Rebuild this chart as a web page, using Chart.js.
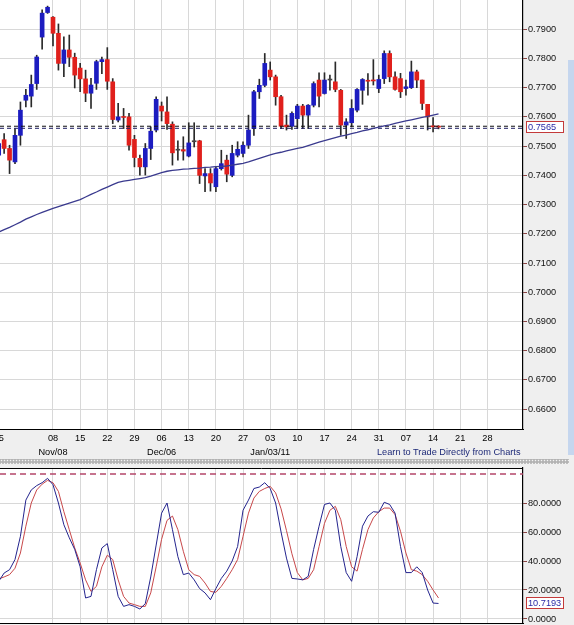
<!DOCTYPE html>
<html><head><meta charset="utf-8">
<script src="https://cdn.jsdelivr.net/npm/chart.js@4.4.1/dist/chart.umd.min.js"></script>
<style>
html,body{margin:0;padding:0;background:#efefef;width:574px;height:625px;overflow:hidden;position:relative;font-family:"Liberation Sans",Arial,sans-serif;}
#c1{position:absolute;left:0;top:0;}
#c2{position:absolute;left:0;top:466px;}
#sep{position:absolute;left:0;top:459px;width:569px;height:5px;background-color:#d6d6d6;background-image:radial-gradient(circle at 1.5px 1.5px,#f4f4f4 0.7px,#9a9a9a 1.2px,transparent 1.7px);background-size:3px 3px;}
#strip{position:absolute;left:568px;top:60px;width:6px;height:395px;background:#c5d6ee;}
#learn{position:absolute;left:377px;top:446px;font-size:9.2px;line-height:12px;color:#1e2a78;white-space:nowrap;}
</style></head>
<body>
<canvas id="c1" width="574" height="460"></canvas>
<div id="sep"></div>
<div id="strip"></div>
<div id="learn">Learn to Trade Directly from Charts</div>
<canvas id="c2" width="574" height="159"></canvas>
<script>
// ---- data (daily candles, Oct 25 2010 .. Feb 15 2011) ----
const opens = [.7469,.7522,.7492,.7446,.7537,.7657,.7671,.7714,.7873,.7957,
.7941,.7886,.7783,.7829,.7804,.7767,.7730,.7681,.7715,.7789,
.7796,.7720,.7589,.7599,.7600,.7523,.7458,.7429,.7492,.7555,
.7637,.7617,.7575,.7486,.7488,.7466,.7515,.7518,.7398,.7406,
.7361,.7423,.7452,.7400,.7469,.7475,.7503,.7560,.7686,.7708,
.7760,.7737,.7669,.7572,.7568,.7594,.7637,.7606,.7640,.7726,
.7680,.7726,.7720,.7691,.7572,.7580,.7623,.7691,.7724,.7724,
.7697,.7731,.7817,.7737,.7731,.7697,.7700,.7754,.7726,.7643,
.7568,.7566];
const highs = [.7520,.7543,.7503,.7560,.7651,.7694,.7743,.7811,.7966,.7979,
.7943,.7918,.7874,.7880,.7818,.7783,.7760,.7732,.7794,.7805,
.7837,.7731,.7646,.7629,.7612,.7537,.7469,.7509,.7566,.7669,
.7651,.7669,.7583,.7518,.7532,.7580,.7580,.7520,.7423,.7423,
.7429,.7486,.7469,.7503,.7515,.7515,.7606,.7691,.7729,.7817,
.7788,.7743,.7674,.7606,.7617,.7643,.7643,.7642,.7720,.7751,
.7751,.7743,.7788,.7694,.7594,.7659,.7697,.7731,.7748,.7796,
.7743,.7826,.7826,.7754,.7749,.7726,.7791,.7760,.7726,.7643,
.7598,.7570];
const lows = [.7463,.7475,.7406,.7440,.7503,.7634,.7634,.7694,.7832,.7954,
.7843,.7760,.7738,.7772,.7699,.7686,.7652,.7629,.7694,.7748,
.7694,.7577,.7583,.7560,.7486,.7429,.7401,.7401,.7454,.7549,
.7586,.7557,.7435,.7452,.7452,.7463,.7497,.7372,.7344,.7346,
.7344,.7418,.7378,.7395,.7463,.7463,.7492,.7537,.7663,.7703,
.7726,.7640,.7560,.7555,.7557,.7560,.7560,.7560,.7634,.7634,
.7678,.7691,.7686,.7537,.7526,.7566,.7617,.7643,.7674,.7709,
.7683,.7714,.7720,.7691,.7666,.7674,.7697,.7700,.7625,.7555,
.7549,.7559];
const closes = [.7509,.7492,.7452,.7537,.7623,.7674,.7711,.7805,.7955,.7975,
.7886,.7783,.7829,.7804,.7743,.7730,.7681,.7709,.7789,.7796,
.7722,.7591,.7600,.7598,.7503,.7461,.7429,.7492,.7551,.7660,
.7620,.7577,.7477,.7486,.7483,.7511,.7515,.7400,.7406,.7374,
.7423,.7440,.7404,.7475,.7489,.7503,.7555,.7686,.7708,.7783,
.7737,.7669,.7568,.7566,.7612,.7637,.7606,.7640,.7714,.7671,
.7726,.7726,.7694,.7572,.7583,.7629,.7694,.7728,.7722,.7723,
.7728,.7817,.7737,.7694,.7686,.7703,.7754,.7726,.7646,.7600,
.7566,.7565];
const movingAvg = [.7206,.7214,.7222,.7231,.7240,.7250,.7258,.7266,.7273,.7280,
.7287,.7293,.7299,.7305,.7311,.7317,.7326,.7335,.7343,.7352,
.7360,.7368,.7376,.7380,.7383,.7386,.7389,.7392,.7397,.7403,
.7409,.7414,.7417,.7419,.7421,.7422,.7424,.7425,.7427,.7428,
.7430,.7431,.7432,.7435,.7438,.7441,.7446,.7452,.7458,.7464,
.7470,.7475,.7479,.7484,.7488,.7492,.7496,.7502,.7508,.7514,
.7519,.7524,.7529,.7534,.7538,.7543,.7547,.7552,.7556,.7561,
.7565,.7569,.7573,.7578,.7582,.7586,.7590,.7594,.7598,.7602,
.7606,.7610];
const priceLines = [0.7568, 0.7561];
const lastPrice = 0.7565;
const stochK = [26,31.7,34,41,57,82,89,92,94,97,
92.6,80,65,56,48,36,14.5,15.6,34,49,
52,34,15.6,8.7,9.9,8.7,6.9,10.6,29,51,
73,80,61.6,43,30.6,31.7,27,21,18,13.3,
21,28,33,40,50,75,82,90,91,94,
90,80,60,42,28,27.6,27,29.4,48,64,
79,80,75,50,32,26,43,64,71,74,
73.6,80.5,79,73,50,32,32,36,32,20,
11,10.7193];
const stochD = [27.6,29,30.6,35,45.5,64,80,89,93,95.6,
94,88,74,61.6,49,38.6,27,19,22.5,36,
44,41,27,15.6,11,9.9,8.7,8.7,18,36,
55,68,71,61.6,46.7,34,30.6,29.4,24.8,19,
18.4,22.5,28,34,41,57,73,83.4,88,90,
91.5,87,76,61,45,32,27,28,34,50,
66,75,77.7,68.5,50,36,33,48,61.6,69.7,
74,76.5,76.5,72,60.5,45.5,34,33,30.6,26,
20,14.5];
const oscLevel = 100;
const tickIdx   = [0,10,15,20,25,30,35,40,45,50,55,60,65,70,75,80,85,90];
const tickDays  = ["25","08","15","22","29","06","13","20","27","03","10","17","24","31","07","14","21","28"];
const tickMonth = ["","Nov/08","","","","Dec/06","","","","Jan/03/11","","","","","","","",""];
const priceTicks = [0.66,0.67,0.68,0.69,0.70,0.71,0.72,0.73,0.74,0.75,0.76,0.77,0.78,0.79];
const oscTicks = [0,20,40,60,80];

// ---- styling ----
const X_MIN = 0.239, X_MAX = 96.56;
const BLUE = '#1c1cc0', RED = '#e0201c', DOJI = '#444';
const GRID = '#d8d8d8';
const FONT = {family:'"Liberation Sans", Arial, sans-serif', size:9.2};
Chart.defaults.font.family = FONT.family;
Chart.defaults.font.size = FONT.size;

const idx = opens.map((_, i) => i);
const candleColor = idx.map(i => closes[i] > opens[i] ? BLUE : (closes[i] < opens[i] ? RED : DOJI));

const bgPlugin = {
  id:'bg',
  beforeDraw(chart){
    const a = chart.chartArea, c = chart.ctx;
    c.save(); c.fillStyle = '#fff'; c.fillRect(a.left, a.top, a.right-a.left, a.bottom-a.top); c.restore();
  }
};
function boxPlugin(scaleId, value, text){
  return {
    id:'box'+scaleId,
    afterDraw(chart){
      const s = chart.scales[scaleId], c = chart.ctx;
      const y = Math.round(s.getPixelForValue(value));
      c.save();
      c.fillStyle = '#fff'; c.strokeStyle = '#c43a3a'; c.lineWidth = 1;
      c.fillRect(526.5, y-5.5, 37, 11); c.strokeRect(526.5, y-5.5, 37, 11);
      c.fillStyle = '#2a2aa6'; c.font = FONT.size + 'px ' + FONT.family;
      c.textBaseline = 'middle'; c.textAlign = 'left';
      c.fillText(text, 528, y+0.5);
      c.restore();
    }
  };
}
const topBorder = {
  id:'topb',
  afterDraw(chart){
    const a = chart.chartArea, c = chart.ctx;
    c.save(); c.strokeStyle = '#000'; c.lineWidth = 1;
    c.beginPath(); c.moveTo(a.left, a.top+0.5); c.lineTo(a.right, a.top+0.5); c.stroke(); c.restore();
  }
};

function xScale(showLabels){
  return {
    type:'linear', min:X_MIN, max:X_MAX, offset:false,
    grid:{color:GRID, drawTicks:false, offset:false},
    border:{color:'#000', width:1},
    ticks:{
      display:showLabels, autoSkip:false, maxRotation:0, minRotation:0, padding:2, color:'#000',
      font:{size:FONT.size, lineHeight:1.52},
      callback(v){ const k = tickIdx.indexOf(v); if(k<0) return ''; return tickMonth[k] ? [tickDays[k], tickMonth[k]] : tickDays[k]; }
    },
    afterBuildTicks(s){ s.ticks = tickIdx.map(v => ({value:v})); },
    afterFit(s){ s.height = showLabels ? 31 : 2; s.paddingLeft = 0; s.paddingRight = 0; s.paddingTop = 0; s.paddingBottom = 0; }
  };
}
function yScale(min, max, ticks){
  return {
    position:'right', min, max,
    grid:{color:GRID, tickColor:'#8a4444', tickLength:4},
    border:{color:'#000', width:1.2},
    ticks:{padding:1, color:'#111', font:{size:FONT.size}, callback: v => Number(v).toFixed(4)},
    afterBuildTicks(s){ s.ticks = ticks.map(v => ({value:v})); },
    afterFit(s){ s.width = 51; s.paddingTop = 0; s.paddingBottom = 0; s.paddingLeft = 0; s.paddingRight = 0; }
  };
}

new Chart(document.getElementById('c1'), {
  type:'bar',
  data:{
    datasets:[
      {type:'line', data: idx.map(i => ({x:i, y:movingAvg[i]})), borderColor:'#3a3a8e', borderWidth:1.3, pointRadius:0, tension:0, order:0},
      {type:'line', data:[{x:X_MIN,y:priceLines[0]},{x:X_MAX,y:priceLines[0]}], borderColor:'#111', borderWidth:1, borderDash:[4,3], pointRadius:0, order:0},
      {type:'line', data:[{x:X_MIN,y:priceLines[1]},{x:X_MAX,y:priceLines[1]}], borderColor:'#1a1a60', borderWidth:1, borderDash:[4,3], pointRadius:0, order:0},
      {type:'bar', data: idx.map(i => ({x:i, y:[opens[i], closes[i]]})), backgroundColor:candleColor, barThickness:4, minBarLength:1, grouped:false, borderWidth:0, order:1},
      {type:'bar', data: idx.map(i => ({x:i, y:[lows[i], highs[i]]})), backgroundColor:'#2a2a2a', barThickness:1, grouped:false, borderWidth:0, order:2}
    ]
  },
  options:{
    responsive:false, animation:false, devicePixelRatio:1,
    layout:{padding:0, autoPadding:false},
    plugins:{legend:{display:false}, tooltip:{enabled:false}},
    scales:{ x:xScale(true), y:yScale(0.65322, 0.79999, priceTicks) }
  },
  plugins:[bgPlugin, boxPlugin('y', lastPrice, lastPrice.toFixed(4))]
});

new Chart(document.getElementById('c2'), {
  type:'line',
  data:{
    datasets:[
      {data: idx.map(i => ({x:i, y:stochK[i]})), borderColor:'#24248e', borderWidth:1, pointRadius:0, tension:0},
      {data: idx.map(i => ({x:i, y:stochD[i]})), borderColor:'#c8484a', borderWidth:1, pointRadius:0, tension:0},
      {data:[{x:X_MIN,y:oscLevel},{x:X_MAX,y:oscLevel}], borderColor:'#b4476a', borderWidth:1.5, borderDash:[6,4], pointRadius:0}
    ]
  },
  options:{
    responsive:false, animation:false, devicePixelRatio:1,
    layout:{padding:{top:2, left:0, right:0, bottom:0}, autoPadding:false},
    plugins:{legend:{display:false}, tooltip:{enabled:false}},
    scales:{ x:xScale(false), y:yScale(-2.76, 104.14, oscTicks) }
  },
  plugins:[bgPlugin, topBorder, boxPlugin('y', stochK[stochK.length-1], stochK[stochK.length-1].toFixed(4))]
});
</script>
</body></html>
